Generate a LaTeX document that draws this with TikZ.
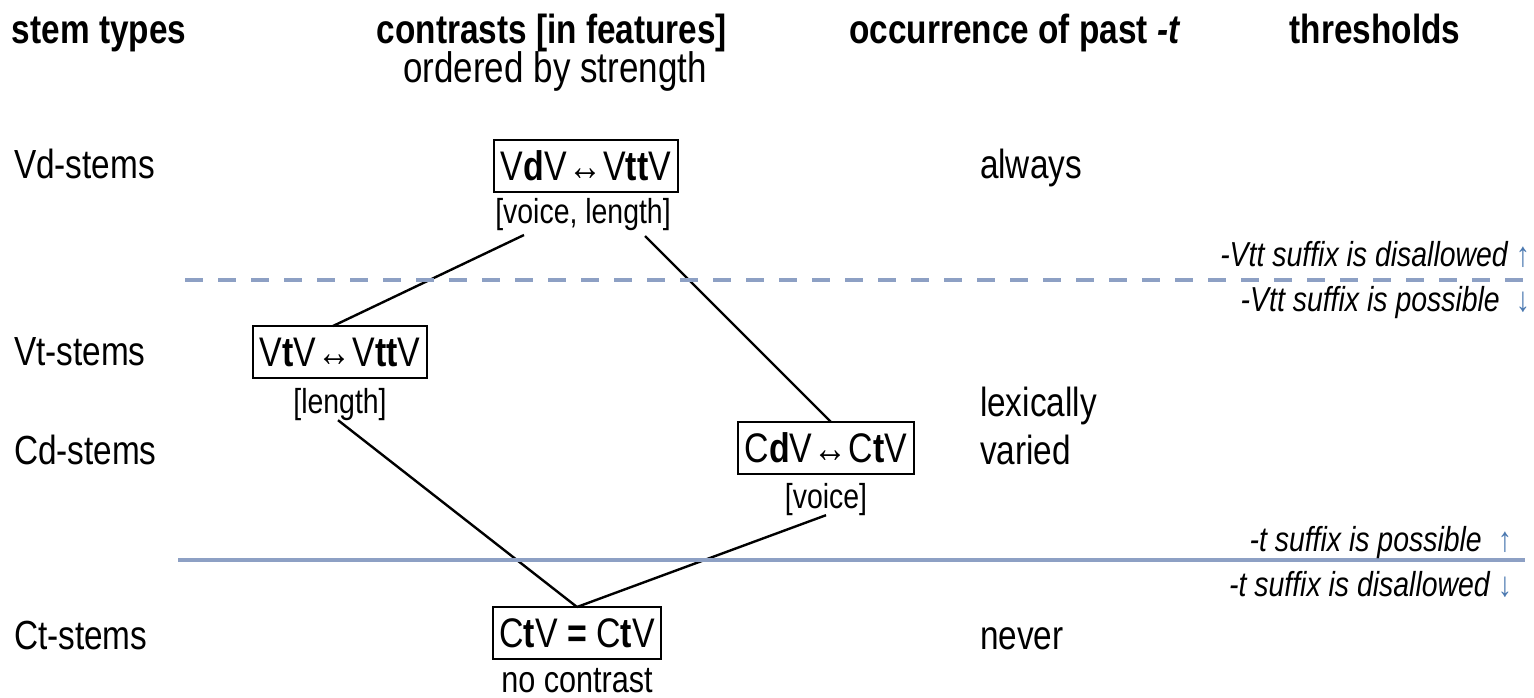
\documentclass[tikz,border=0pt]{standalone}
\usepackage{fontspec}
\setmainfont{Liberation Sans}[FakeStretch=0.82]
\definecolor{thr}{HTML}{8DA0C4}
\definecolor{arr}{HTML}{4A78B0}
\begin{document}
\begin{tikzpicture}[x=0.75pt,y=-0.75pt,
  every node/.style={inner sep=0pt, outer sep=0pt},
  hdr/.style={font=\fontsize{30.5}{36}\selectfont\bfseries, anchor=base},
  body/.style={font=\fontsize{30.5}{36}\selectfont, anchor=base west},
  sub/.style={font=\fontsize{32}{36}\selectfont, anchor=base},
  lab/.style={font=\fontsize{26}{30}\selectfont, anchor=base},
  cbox/.style={draw, line width=1.3pt, font=\fontsize{31}{36}\selectfont,
    text height=23pt, text depth=1pt, inner xsep=5pt, inner ysep=7.5pt},
  thrtext/.style={font=\fontsize{26}{30}\selectfont\itshape, anchor=base east},
  conn/.style={line width=1.8pt, black},
  thrline/.style={line width=2.6pt, thr}]
\useasboundingbox[fill=white] (0,0) rectangle (1534,698);

% headers
\node[hdr, anchor=base west] (h1) at (12,44) {stem types};
\node[hdr] (h2) at (552,44) {contrasts [in features]};
\node[sub] (h2b) at (555,83) {ordered by strength};
\node[hdr] (h3) at (1015,44) {occurrence of past \textit{-t}};
\node[hdr] (h4) at (1375,44) {thresholds};

% stem types
\node[body] (r1) at (14,179) {Vd-stems};
\node[body] (r2) at (14,366) {Vt-stems};
\node[body] (r3) at (14,464) {Cd-stems};
\node[body] (r4) at (14,649) {Ct-stems};

% occurrence
\node[body] (o1) at (980,179) {always};
\node[body] (o2) at (980,416) {lexically};
\node[body] (o3) at (980,464) {varied};
\node[body] (o4) at (980,649) {never};

% contrast boxes
\node[cbox] (vd) at (586,166) {V\textbf{d}V\kern1pt↔\kern1ptV\textbf{tt}V};
\node[cbox] (vt) at (340,352) {V\textbf{t}V\kern1pt↔\kern1ptV\textbf{tt}V};
\node[cbox] (cd) at (826,448) {C\textbf{d}V\kern1pt↔\kern1ptC\textbf{t}V};
\node[cbox] (ct) at (577,633) {C\textbf{t}V \textbf{=} C\textbf{t}V};

% feature labels
\node[lab] (vdl) at (583,224) {[voice, length]};
\node[lab] (vtl) at (340,413) {[length]};
\node[lab] (cdl) at (826,508) {[voice]};
\node[lab, font=\fontsize{28}{30}\selectfont] (ctl) at (577,692) {no contrast};

% connectors
\coordinate (a1) at (524,235);
\coordinate (a2) at (645,236);
\draw[conn] (vt.north -| 333,0) -- (a1);
\draw[conn] (a2) -- (cd.north -| 831,0);
\draw[conn] (vtl.south -| 338,0) -- (ct.north);
\draw[conn] (cdl.south) -- (ct.north);

% thresholds
\coordinate (d1) at (185,280);
\coordinate (d2) at (1534,280);
\draw[thrline, dash pattern=on 13.5pt off 11.25pt] (d1) -- (d2);
\coordinate (s1) at (178,560);
\coordinate (s2) at (1525,560);
\draw[thrline] (s1) -- (s2);

\node[thrtext] (t1) at (1530,267) {-Vtt suffix is disallowed\hspace{6pt}\textcolor{arr}{\upshape ↑}};
\node[thrtext] (t2) at (1530,312) {-Vtt suffix is possible\hspace{12pt}\textcolor{arr}{\upshape ↓}};
\node[thrtext] (t3) at (1512,551) {-t suffix is possible\hspace{12pt}\textcolor{arr}{\upshape ↑}};
\node[thrtext] (t4) at (1512,596) {-t suffix is disallowed\hspace{6pt}\textcolor{arr}{\upshape ↓}};
\end{tikzpicture}
\end{document}
